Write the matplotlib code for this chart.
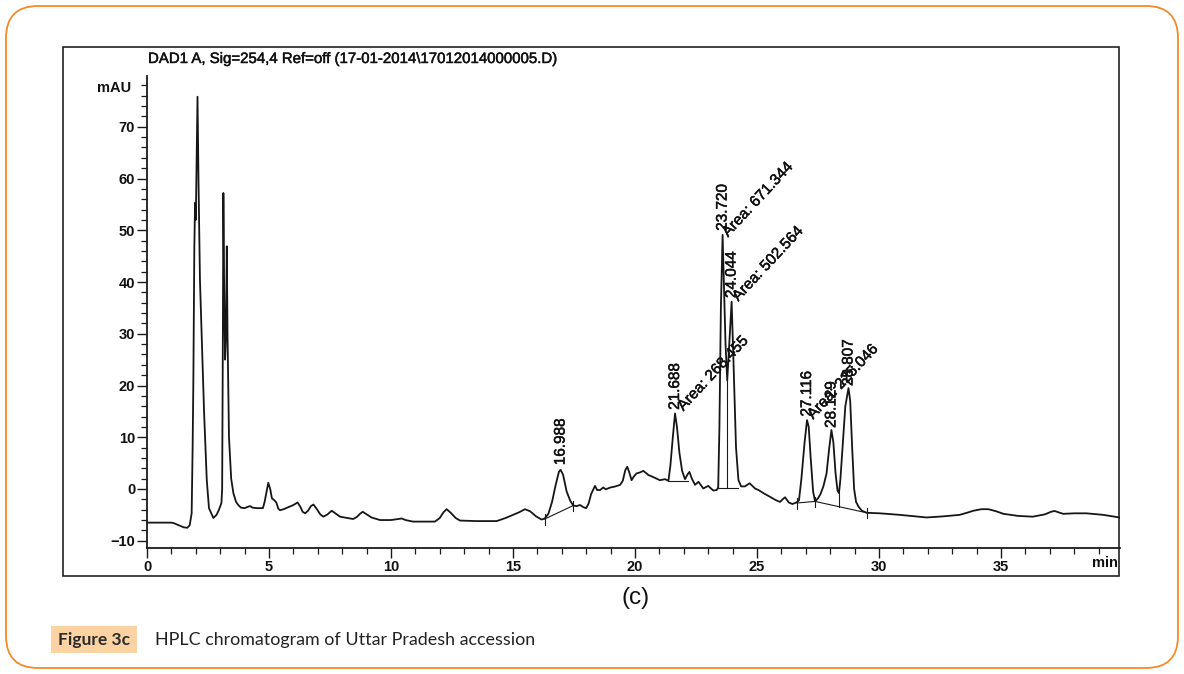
import matplotlib
matplotlib.use("Agg")
import matplotlib.pyplot as plt
import matplotlib.patheffects as pe
from matplotlib.patches import FancyBboxPatch, Rectangle
from matplotlib.ticker import MultipleLocator

# ---------------- data ----------------
time_min = [0.0, 1.0, 1.1, 1.3, 1.5, 1.65, 1.75, 1.8, 1.83, 1.87, 1.90, 1.94, 1.97, 2.00,
            2.07, 2.11, 2.17, 2.34, 2.45, 2.54, 2.72, 2.85, 2.95, 3.05, 3.08, 3.11, 3.13,
            3.16, 3.20, 3.24, 3.27, 3.30, 3.36, 3.45, 3.54, 3.65, 3.74, 3.85, 4.0, 4.1,
            4.22, 4.32, 4.5, 4.75, 4.82, 4.9, 4.97, 5.05, 5.12, 5.2, 5.3, 5.38, 5.45, 5.6,
            5.8, 6.0, 6.17, 6.28, 6.38, 6.48, 6.6, 6.72, 6.82, 6.95, 7.1, 7.23, 7.4, 7.57,
            7.75, 7.91, 8.2, 8.45, 8.6, 8.73, 8.84, 9.0, 9.2, 9.55, 10.0, 10.3, 10.44, 10.6,
            10.9, 11.8, 12.0, 12.15, 12.28, 12.45, 12.65, 12.83, 13.5, 14.33, 14.7, 15.0,
            15.25, 15.49, 15.7, 15.95, 16.17, 16.3, 16.45, 16.6, 16.75, 16.88, 16.95, 17.05,
            17.2, 17.35, 17.47, 17.6, 17.75, 17.88, 18.0, 18.1, 18.2, 18.36, 18.45, 18.57,
            18.7, 18.8, 19.0, 19.2, 19.39, 19.5, 19.6, 19.68, 19.76, 19.86, 19.95, 20.06,
            20.2, 20.34, 20.45, 20.55, 20.75, 21.02, 21.23, 21.37, 21.45, 21.55, 21.64,
            21.72, 21.82, 21.93, 22.05, 22.15, 22.23, 22.33, 22.46, 22.6, 22.8, 23.0, 23.21,
            23.35, 23.41, 23.46, 23.52, 23.59, 23.64, 23.71, 23.78, 23.85, 23.96, 24.04,
            24.14, 24.24, 24.35, 24.5, 24.7, 24.92, 25.06, 25.3, 25.53, 25.75, 25.94, 26.05,
            26.15, 26.3, 26.45, 26.62, 26.72, 26.82, 26.95, 27.05, 27.12, 27.2, 27.3, 27.38,
            27.5, 27.6, 27.72, 27.85, 27.95, 28.05, 28.13, 28.22, 28.3, 28.36, 28.42, 28.52,
            28.62, 28.75, 28.82, 28.9, 28.98, 29.06, 29.16, 29.3, 29.5, 30.04, 30.86, 31.5,
            31.95, 32.6, 33.3, 33.6, 33.87, 34.2, 34.48, 34.8, 35.1, 35.7, 36.3, 36.8, 37.05,
            37.2, 37.35, 37.55, 38.0, 38.5, 39.2, 39.85]
signal_mau = [-6.5, -6.5, -6.6, -7.0, -7.4, -7.5, -7.0, -5.5, -4.7, 8.0, 21.0, 46.8, 55.3, 52.0,
              75.8, 59.8, 40.4, 14.7, 1.7, -3.7, -5.6, -5.0, -4.0, -2.7, 0.0, 30.0, 57.2,
              40.0, 25.0, 30.0, 46.9, 30.0, 10.0, 2.0, -0.8, -2.5, -3.1, -3.6, -3.7, -3.5,
              -3.3, -3.6, -3.7, -3.7, -2.5, -0.5, 1.2, 0.0, -1.8, -2.1, -2.6, -3.8, -4.1, -3.9,
              -3.5, -3.1, -2.6, -3.4, -4.4, -4.7, -4.2, -3.3, -3.0, -3.8, -4.9, -5.35, -4.9, -4.2,
              -4.8, -5.35, -5.6, -5.8, -5.4, -4.8, -4.4, -4.9, -5.5, -6.0, -6.0, -5.8, -5.7, -6.0,
              -6.3, -6.3, -5.6, -4.5, -3.9, -4.6, -5.6, -6.1, -6.2, -6.2, -5.6, -5.0,
              -4.5, -3.9, -4.3, -5.3, -5.9, -5.7, -4.8, -2.5, 0.8, 3.3, 3.7, 2.8,
              -0.5, -2.3, -3.2, -3.3, -3.1, -3.5, -3.7, -2.8, -1.0, 0.6, -0.2, -0.2,
              0.3, -0.05, 0.3, 0.5, 0.8, 1.6, 3.6, 4.3, 3.3, 1.7, 2.4, 3.0,
              3.2, 3.5, 3.1, 2.7, 2.3, 1.7, 1.9, 1.6, 4.5, 10.0, 14.6,
              12.0, 7.0, 3.5, 1.9, 2.8, 3.3, 2.0, 0.8, 1.4, 0.1, 0.6, -0.3,
              -0.2, 0.3, 12.0, 35.0, 49.1, 40.0, 28.0, 21.0, 27.0, 36.2, 24.0,
              8.0, 1.7, 0.5, 0.5, 1.1, 0.1, -0.2, -0.9, -1.5, -2.1, -2.5, -2.0,
              -1.6, -2.6, -2.9, -2.6, -2.2, 2.0, 9.0, 13.3, 12.0, 6.0, -0.5, -2.4,
              -1.8, -1.0, 0.5, 3.0, 7.5, 11.4, 9.0, 3.0, -0.3, -0.8, 2.0, 9.0,
              16.0, 19.5, 17.0, 8.0, 0.0, -2.5, -3.4, -4.2, -4.6, -4.7, -5.0, -5.3,
              -5.5, -5.3, -5.0, -4.6, -4.2, -3.9, -3.9, -4.3, -4.8, -5.2, -5.35, -4.9, -4.4,
              -4.25, -4.5, -4.8, -4.7, -4.7, -5.0, -5.5]

# integration baselines drawn by the data system (start t, start v, end t, end v)
base_t0 = [16.30, 21.37, 23.41, 26.65, 27.38]
base_v0 = [-5.8, 1.6, 0.1, -2.7, -2.4]
base_t1 = [17.47, 22.19, 24.22, 27.38, 29.50]
base_v1 = [-3.2, 1.6, 0.1, -2.4, -4.6]
# peak separation drop lines (t, bottom v, top v)
drop_t = [23.41, 23.78, 28.36]
drop_v0 = [0.1, 0.1, -3.4]
drop_v1 = [2.0, 21.0, -0.8]

# retention time labels (vertical)
rt_labels = ["16.988", "21.688", "23.720", "24.044", "27.116", "28.129", "28.807"]
rt_x = [16.95, 21.64, 23.59, 23.96, 27.05, 28.05, 28.75]
rt_y = [4.6, 15.3, 49.9, 36.9, 14.0, 11.8, 19.9]

# area labels (slanted)
area_labels = ["Area: 268.455", "Area: 671.344", "Area: 502.564", "Area: 225.046"]
area_x = [21.98, 23.81, 24.23, 27.30]
area_y = [15.0, 48.6, 36.2, 13.4]

x_ticks = [0, 5, 10, 15, 20, 25, 30, 35]
y_ticks = [-10, 0, 10, 20, 30, 40, 50, 60, 70]

title = "DAD1 A, Sig=254,4 Ref=off (17-01-2014\\17012014000005.D)"

# ---------------- figure ----------------
W, H = 1184, 674
fig = plt.figure(figsize=(W / 100, H / 100), dpi=100)
fig.patch.set_facecolor("white")

def px(x, y):
    """figure fraction from pixel position measured from top-left"""
    return x / W, 1 - y / H

ink = [pe.withStroke(linewidth=0.35, foreground="#111111")]

# outer rounded orange border
border = FancyBboxPatch((6 / 100, (H - 668) / 100), (1178 - 6) / 100, (668 - 6) / 100,
                        boxstyle="round,pad=0,rounding_size=0.32",
                        transform=fig.dpi_scale_trans, facecolor="none",
                        edgecolor="#F58A2A", linewidth=1.3, zorder=0)
fig.patches.append(border)

# scanned chart frame
frame = Rectangle((63 / W, 1 - 576 / H), (1119 - 63) / W, (576 - 47) / H,
                  transform=fig.transFigure, fill=False, edgecolor="#222222",
                  linewidth=1.2, zorder=1)
fig.patches.append(frame)

# caption
cap_box = Rectangle((51 / W, 1 - 653 / H), (137 - 51) / W, (653 - 626) / H,
                    transform=fig.transFigure, facecolor="#FBD3A2", edgecolor="none", zorder=1)
fig.patches.append(cap_box)
fig.text(*px(94, 640), "Figure 3c", ha="center", va="center", fontsize=12.5,
         fontweight="bold", color="#2b2b2b", family="Lato")
fig.text(*px(155, 640), "HPLC chromatogram of Uttar Pradesh accession", ha="left",
         va="center", fontsize=12.9, color="#222222", family="Lato")
fig.text(*px(636, 598), "(c)", ha="center", va="center", fontsize=17.5,
         color="#111111", family=["Liberation Sans Narrow", "Liberation Sans"])

# axes
x0, x1 = 147, 1120
y_top, y_bot = 76, 548
ax = fig.add_axes([x0 / W, 1 - y_bot / H, (x1 - x0) / W, (y_bot - y_top) / H])
ax.set_facecolor("none")
ax.set_zorder(2)
px_per_min = 24.4
px_per_mau = 5.175
ax.set_xlim(0, (x1 - x0) / px_per_min)
ax.set_ylim((489 - y_bot) / px_per_mau, (489 - y_top) / px_per_mau)

ax.plot(time_min, signal_mau, color="#161616", linewidth=1.3, solid_joinstyle="round")
for a, b, c, d in zip(base_t0, base_v0, base_t1, base_v1):
    ax.plot([a, c], [b, d], color="#1a1a1a", linewidth=0.8)
for t, a, b in zip(drop_t, drop_v0, drop_v1):
    ax.plot([t, t], [a, b], color="#1a1a1a", linewidth=0.8)
# small end-marks of the integration baselines
for t, v in [(16.30, -5.8), (17.47, -3.2), (26.65, -2.7), (27.38, -2.4), (29.50, -4.6)]:
    ax.plot([t, t], [v + 0.9, v - 1.1], color="#1a1a1a", linewidth=0.8)

lbl_font = dict(family="Liberation Sans", fontsize=11, color="#111111", path_effects=ink)
for s, x, y in zip(rt_labels, rt_x, rt_y):
    ax.text(x, y, s, rotation=90, ha="left", va="center", rotation_mode="anchor", **lbl_font)
for s, x, y in zip(area_labels, area_x, area_y):
    ax.text(x, y, s, rotation=47, ha="left", va="baseline", rotation_mode="anchor", **lbl_font)

for side in ("top", "right"):
    ax.spines[side].set_visible(False)
for side in ("left", "bottom"):
    ax.spines[side].set_linewidth(1.3)
    ax.spines[side].set_color("#1a1a1a")

ax.set_xticks(x_ticks)
ax.set_yticks(y_ticks)
ax.xaxis.set_minor_locator(MultipleLocator(1))
ax.yaxis.set_minor_locator(MultipleLocator(2))
ax.tick_params(axis="both", which="major", length=7, width=1.0, color="#1a1a1a", pad=1.5)
ax.tick_params(axis="both", which="minor", length=4, width=0.9, color="#1a1a1a")
for lab in ax.get_xticklabels() + ax.get_yticklabels():
    lab.set_family("Liberation Sans")
    lab.set_fontweight("bold")
    lab.set_fontsize(10.5)
    lab.set_color("#111111")

fig.text(*px(131, 88), "mAU", ha="right", va="center", fontsize=10.5, fontweight="bold",
         family="Liberation Sans", color="#111111")
fig.text(*px(1118, 563), "min", ha="right", va="center", fontsize=10.5, fontweight="bold",
         family="Liberation Sans", color="#111111")
fig.text(*px(148, 59), title, ha="left", va="center", fontsize=10.8,
         family="Liberation Sans", color="#111111", path_effects=ink)

fig.savefig("out.png", dpi=100)
